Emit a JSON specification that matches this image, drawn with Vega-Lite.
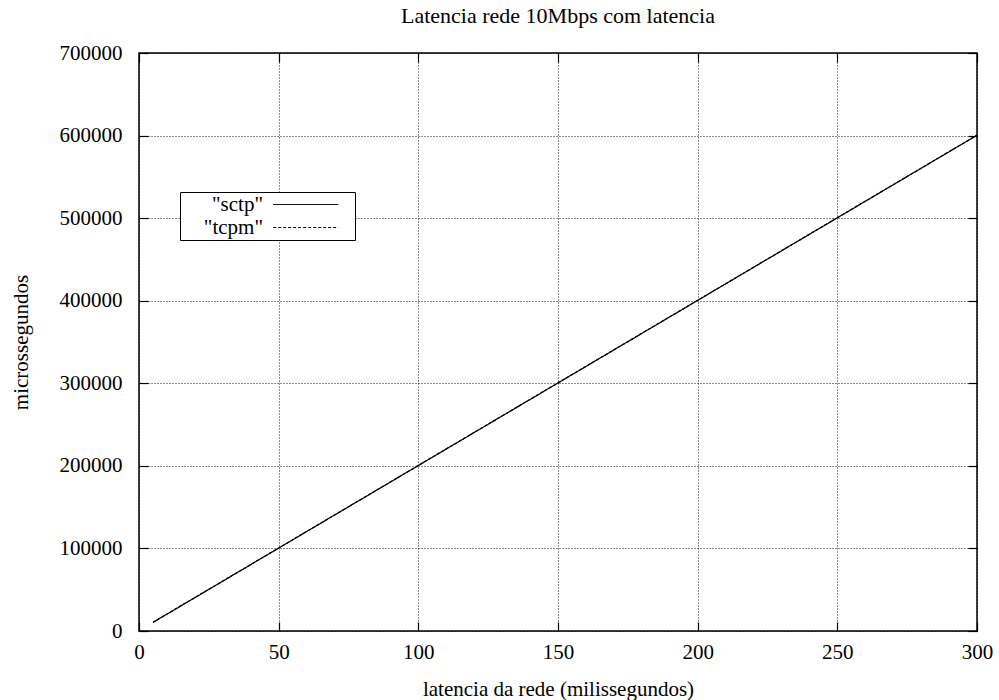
{
  "$schema": "https://vega.github.io/schema/vega-lite/v6.json",
  "width": 838,
  "height": 578,
  "autosize": {"type": "none"},
  "padding": {"left": 139, "top": 53, "right": 22, "bottom": 69},
  "background": "white",
  "config": {
    "font": "Liberation Serif",
    "view": {"stroke": "black", "strokeWidth": 1.5},
    "axis": {
      "labelFont": "Liberation Serif",
      "titleFont": "Liberation Serif",
      "labelFontSize": 21,
      "titleFontSize": 21,
      "labelColor": "black",
      "titleColor": "black",
      "titleFontWeight": "normal",
      "domain": false,
      "ticks": true,
      "tickSize": -9,
      "tickColor": "black",
      "tickWidth": 1.2,
      "gridColor": "black",
      "gridDash": [1, 2],
      "gridOpacity": 0.9,
      "gridWidth": 1
    }
  },
  "title": {
    "text": "Latencia rede 10Mbps com latencia",
    "font": "Liberation Serif",
    "fontSize": 22,
    "fontWeight": "normal",
    "color": "black",
    "offset": 14
  },
  "data": {
    "values": [
      {"lat": 5, "us": 10400, "s": "\"sctp\""},
      {"lat": 10, "us": 20400, "s": "\"sctp\""},
      {"lat": 20, "us": 40400, "s": "\"sctp\""},
      {"lat": 30, "us": 60400, "s": "\"sctp\""},
      {"lat": 40, "us": 80400, "s": "\"sctp\""},
      {"lat": 50, "us": 100400, "s": "\"sctp\""},
      {"lat": 60, "us": 120400, "s": "\"sctp\""},
      {"lat": 70, "us": 140400, "s": "\"sctp\""},
      {"lat": 80, "us": 160400, "s": "\"sctp\""},
      {"lat": 90, "us": 180400, "s": "\"sctp\""},
      {"lat": 100, "us": 200400, "s": "\"sctp\""},
      {"lat": 120, "us": 240400, "s": "\"sctp\""},
      {"lat": 140, "us": 280400, "s": "\"sctp\""},
      {"lat": 160, "us": 320400, "s": "\"sctp\""},
      {"lat": 180, "us": 360400, "s": "\"sctp\""},
      {"lat": 200, "us": 400400, "s": "\"sctp\""},
      {"lat": 220, "us": 440400, "s": "\"sctp\""},
      {"lat": 240, "us": 480400, "s": "\"sctp\""},
      {"lat": 260, "us": 520400, "s": "\"sctp\""},
      {"lat": 280, "us": 560400, "s": "\"sctp\""},
      {"lat": 300, "us": 600400, "s": "\"sctp\""},
      {"lat": 5, "us": 10500, "s": "\"tcpm\""},
      {"lat": 10, "us": 20500, "s": "\"tcpm\""},
      {"lat": 20, "us": 40500, "s": "\"tcpm\""},
      {"lat": 30, "us": 60500, "s": "\"tcpm\""},
      {"lat": 40, "us": 80500, "s": "\"tcpm\""},
      {"lat": 50, "us": 100500, "s": "\"tcpm\""},
      {"lat": 60, "us": 120500, "s": "\"tcpm\""},
      {"lat": 70, "us": 140500, "s": "\"tcpm\""},
      {"lat": 80, "us": 160500, "s": "\"tcpm\""},
      {"lat": 90, "us": 180500, "s": "\"tcpm\""},
      {"lat": 100, "us": 200500, "s": "\"tcpm\""},
      {"lat": 120, "us": 240500, "s": "\"tcpm\""},
      {"lat": 140, "us": 280500, "s": "\"tcpm\""},
      {"lat": 160, "us": 320500, "s": "\"tcpm\""},
      {"lat": 180, "us": 360500, "s": "\"tcpm\""},
      {"lat": 200, "us": 400500, "s": "\"tcpm\""},
      {"lat": 220, "us": 440500, "s": "\"tcpm\""},
      {"lat": 240, "us": 480500, "s": "\"tcpm\""},
      {"lat": 260, "us": 520500, "s": "\"tcpm\""},
      {"lat": 280, "us": 560500, "s": "\"tcpm\""},
      {"lat": 300, "us": 600500, "s": "\"tcpm\""}
    ]
  },
  "layer": [
    {
      "mark": {"type": "line", "strokeWidth": 1.2, "color": "black"},
      "encoding": {
        "x": {
          "field": "lat",
          "type": "quantitative",
          "scale": {"domain": [0, 300], "nice": false},
          "axis": {
            "orient": "bottom",
            "title": "latencia da rede (milissegundos)",
            "values": [0, 50, 100, 150, 200, 250, 300],
            "grid": true,
            "labelFont": "Liberation Serif",
            "titleFont": "Liberation Serif",
            "labelPadding": 19,
            "titlePadding": 16,
            "labelFlush": false
          }
        },
        "y": {
          "field": "us",
          "type": "quantitative",
          "scale": {"domain": [0, 700000], "nice": false},
          "axis": {
            "orient": "left",
            "title": "microssegundos",
            "values": [0, 100000, 200000, 300000, 400000, 500000, 600000, 700000],
            "format": "d",
            "grid": true,
            "labelFont": "Liberation Serif",
            "titleFont": "Liberation Serif",
            "labelPadding": 26,
            "titlePadding": 28,
            "labelFlush": false
          }
        },
        "strokeDash": {
          "field": "s",
          "type": "nominal",
          "scale": {"domain": ["\"sctp\"", "\"tcpm\""], "range": [[1, 0], [3, 2]]},
          "legend": {
            "title": null,
            "orient": "none",
            "legendX": 41,
            "legendY": 139,
            "strokeColor": "black",
            "fillColor": "white",
            "padding": 2,
            "labelFont": "Liberation Serif",
            "labelFontSize": 21,
            "labelColor": "black",
            "labelAlign": "right",
            "labelOffset": 60,
            "symbolType": "M40.3,0H72.9M78.8,0",
            "symbolSize": 16,
            "symbolStrokeColor": "black",
            "symbolStrokeWidth": 1,
            "rowPadding": 1
          }
        }
      }
    },
    {
      "mark": {"type": "line", "opacity": 0},
      "encoding": {
        "x": {
          "field": "lat",
          "type": "quantitative",
          "scale": {"domain": [0, 300], "nice": false},
          "axis": {
            "orient": "top",
            "title": null,
            "labels": false,
            "grid": false,
            "values": [0, 50, 100, 150, 200, 250, 300]
          }
        },
        "y": {
          "field": "us",
          "type": "quantitative",
          "scale": {"domain": [0, 700000], "nice": false},
          "axis": {
            "orient": "right",
            "title": null,
            "labels": false,
            "grid": false,
            "values": [0, 100000, 200000, 300000, 400000, 500000, 600000, 700000]
          }
        }
      }
    }
  ],
  "resolve": {"axis": {"x": "independent", "y": "independent"}}
}
